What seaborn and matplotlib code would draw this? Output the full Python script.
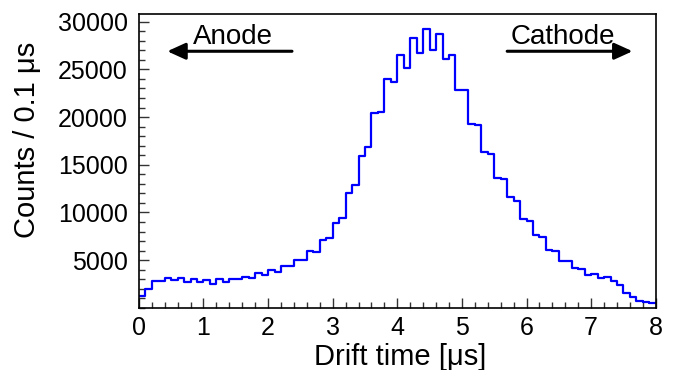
import numpy as np
import pandas as pd
import matplotlib
matplotlib.use("Agg")
import matplotlib.pyplot as plt
from matplotlib.ticker import MultipleLocator
import seaborn as sns

# 80 bins of 0.1 us between 0 and 8 us
BIN_EDGES = [round(0.1 * i, 2) for i in range(81)]
COUNTS = [
    1250, 1960, 2800, 2830, 3150, 2900, 3170, 2760, 3030, 2690,
    2970, 2520, 3030, 2760, 3030, 3060, 3240, 3140, 3670, 3430,
    3920, 3750, 4370, 4340, 5030, 5000, 5960, 5840, 7100, 7270,
    8910, 9470, 12090, 12890, 15930, 16880, 20380, 20550, 24000, 23630,
    26520, 25160, 28270, 26670, 29250, 26980, 28660, 26070, 26490, 22820,
    22820, 19260, 19200, 16350, 16080, 13630, 13560, 11570, 11220, 9300,
    9090, 7620, 7410, 6050, 5910, 4890, 4890, 4190, 4020, 3430,
    3600, 3150, 3240, 2830, 2410, 1510, 1150, 700, 630, 460,
]
X_LABEL = "Drift time [μs]"
Y_LABEL = "Counts / 0.1 μs"

edges = np.array(BIN_EDGES)
df = pd.DataFrame({
    "t": (edges[:-1] + edges[1:]) / 2,
    "n": COUNTS,
})

sns.set_theme(style="ticks")
plt.rcParams["font.family"] = ["Liberation Sans", "DejaVu Sans"]
plt.rcParams.update({
    "text.color": "black",
    "axes.labelcolor": "black",
    "xtick.color": "black",
    "ytick.color": "black",
})

fig = plt.figure(figsize=(6.74, 3.70), dpi=100)
ax = fig.add_axes([0.206, 0.168, 0.767, 0.794])

sns.histplot(data=df, x="t", weights="n", bins=BIN_EDGES, element="step",
             fill=False, color="#0000ff", linewidth=1.6, ax=ax)

ax.set_xlim(0, 8)
ax.set_ylim(0, 30800)
ax.xaxis.set_major_locator(MultipleLocator(1))
ax.xaxis.set_minor_locator(MultipleLocator(0.2))
ax.yaxis.set_minor_locator(MultipleLocator(1000))
ax.set_yticks([5000, 10000, 15000, 20000, 25000, 30000])
ax.tick_params(which="both", direction="in", top=False, right=False,
               labelsize=18, width=1, color="#333333", labelcolor="black")
ax.tick_params(which="major", length=7)
ax.tick_params(which="minor", length=4)
ax.tick_params(axis="x", which="major", pad=6)
ax.tick_params(axis="y", which="major", pad=8)
for s in ax.spines.values():
    s.set_linewidth(1.2)
    s.set_color("black")

ax.set_xlabel(X_LABEL, fontsize=21, color="black")
ax.set_ylabel(Y_LABEL, fontsize=21, color="black")
ax.xaxis.set_label_coords(0.505, -0.118)
ax.yaxis.set_label_coords(-0.19, 0.905)
ax.yaxis.label.set_horizontalalignment("right")

# direction markers
arrow = dict(arrowstyle="-|>,head_length=1.1,head_width=0.5",
             mutation_scale=10, color="black", lw=2.2, shrinkA=0, shrinkB=0)
ax.annotate("", xy=(0.44, 26900), xytext=(2.37, 26900), arrowprops=arrow)
ax.annotate("", xy=(7.64, 26900), xytext=(5.70, 26900), arrowprops=arrow)
ax.text(1.45, 27700, "Anode", fontsize=20, ha="center", va="baseline",
        color="black")
ax.text(6.56, 27700, "Cathode", fontsize=20, ha="center", va="baseline",
        color="black")

fig.savefig("out.png", dpi=100)
plt.close(fig)
